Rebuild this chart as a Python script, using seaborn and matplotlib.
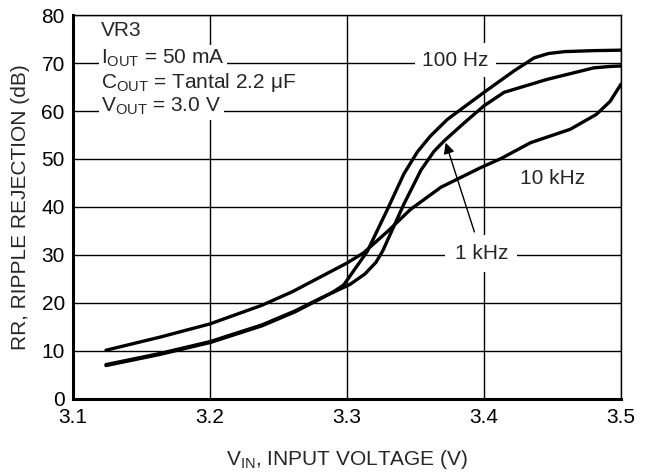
import numpy as np
import pandas as pd
import matplotlib
matplotlib.use("Agg")
import matplotlib.pyplot as plt
import seaborn as sns

# curve data (V, dB)
vin_100hz = [3.124, 3.163, 3.2, 3.238, 3.262, 3.281, 3.29, 3.2975, 3.3147, 3.329,
             3.3415, 3.3514, 3.3609, 3.3734, 3.4, 3.422, 3.4366, 3.447, 3.459, 3.48, 3.5]
rr_100hz = [6.9, 9.2, 11.7, 15.2, 18.1, 20.9, 22.3, 23.7, 30.7, 39.2,
            46.9, 51.5, 54.8, 58.3, 63.9, 68.4, 71.1, 72.0, 72.4, 72.6, 72.7]

vin_1khz = [3.124, 3.163, 3.2, 3.238, 3.262, 3.281, 3.302, 3.313, 3.321, 3.326,
            3.3415, 3.354, 3.3635, 3.371, 3.385, 3.4, 3.4146, 3.446, 3.48, 3.492, 3.5]
rr_1khz = [7.1, 9.4, 11.9, 15.4, 18.3, 21.0, 23.8, 26.0, 28.4, 30.8,
           40.6, 47.7, 51.6, 53.8, 57.4, 61.1, 63.9, 66.6, 69.0, 69.3, 69.4]

vin_10khz = [3.124, 3.163, 3.2, 3.238, 3.26, 3.28, 3.3, 3.312, 3.33, 3.3464, 3.3685,
             3.3976, 3.4125, 3.434, 3.463, 3.482, 3.492, 3.5]
rr_10khz = [10.1, 12.8, 15.6, 19.5, 22.3, 25.3, 28.3, 30.4, 35.0, 39.5, 44.1,
            48.2, 50.1, 53.4, 56.2, 59.3, 62.0, 65.6]

x_ticks = [3.1, 3.2, 3.3, 3.4, 3.5]
y_ticks = [0, 10, 20, 30, 40, 50, 60, 70, 80]

sns.set_style("white")
plt.rcParams['font.family'] = ['Liberation Sans', 'DejaVu Sans']
plt.rcParams['mathtext.fontset'] = 'custom'
plt.rcParams['mathtext.rm'] = 'Liberation Sans'
plt.rcParams['mathtext.it'] = 'Liberation Sans'

fig = plt.figure(figsize=(6.53, 4.74), dpi=100)
ax = fig.add_axes([0.112, 0.159, 0.839, 0.809])

for xs, ys in [(vin_100hz, rr_100hz), (vin_1khz, rr_1khz), (vin_10khz, rr_10khz)]:
    df = pd.DataFrame({'Vin': xs, 'RR': ys})
    sns.lineplot(data=df, x='Vin', y='RR', color='black', linewidth=2.4, ax=ax,
                 zorder=3, sort=False)

ax.set_xlim(3.1, 3.5)
ax.set_ylim(0, 80)
ax.set_xticks(x_ticks)
ax.set_yticks(y_ticks)
ax.set_xticklabels([f"{t:.1f}" for t in x_ticks])
ax.tick_params(length=0, labelsize=15, colors='black')
ax.tick_params(axis='x', pad=7)
ax.tick_params(axis='y', pad=6)
ax.grid(True, color='black', linewidth=1.0)
ax.set_axisbelow(True)

for side in ['top', 'right']:
    ax.spines[side].set_linewidth(1.0)
    ax.spines[side].set_color('black')
for side in ['left', 'bottom']:
    ax.spines[side].set_linewidth(2.2)
    ax.spines[side].set_color('black')

ax.set_xlabel("V$_{\\mathrm{IN}}$, INPUT VOLTAGE (V)", fontsize=15, labelpad=15)
ax.set_ylabel("RR, RIPPLE REJECTION (dB)", fontsize=15, labelpad=8)

# condition block
box = dict(facecolor='white', edgecolor='none', pad=2)
ax.text(3.1205, 76.8, "VR3", fontsize=15, va='center', ha='left', bbox=box, zorder=4)
ax.text(3.1205, 71.0, "I$_{\\mathrm{OUT}}$ = 50 mA", fontsize=15, va='center', ha='left', bbox=box, zorder=4)
ax.text(3.1205, 65.9, "C$_{\\mathrm{OUT}}$ = Tantal 2.2 μF", fontsize=15, va='center', ha='left', bbox=box, zorder=4)
ax.text(3.1205, 61.0, "V$_{\\mathrm{OUT}}$ = 3.0 V", fontsize=15, va='center', ha='left', bbox=box, zorder=4)

# curve labels
ax.text(3.379, 70.6, "100 Hz", fontsize=15, va='center', ha='center',
        bbox=dict(boxstyle='square,pad=0.35', facecolor='white', edgecolor='none'), zorder=2)
ax.text(3.45, 45.9, "10 kHz", fontsize=15, va='center', ha='center', zorder=4)
ax.annotate("1 kHz", xy=(3.372, 53.4), xytext=(3.398, 30.3), fontsize=15,
            va='center', ha='center',
            bbox=dict(boxstyle='square,pad=0.45', facecolor='white', edgecolor='none'),
            arrowprops=dict(arrowstyle='-|>', color='black', lw=1.0,
                            shrinkA=2, shrinkB=0, mutation_scale=16),
            zorder=2)

plt.savefig("out.png", dpi=100)
